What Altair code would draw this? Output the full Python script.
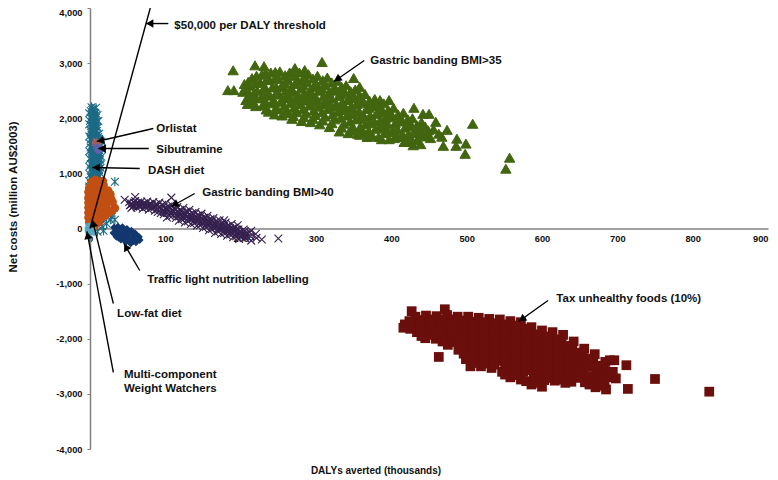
import math
import altair as alt
import pandas as pd

green = [(183,2510),(191,2510),(190,2870),(219,2960),(231,2945),(308,3020),(272,2910),(285,2875),(350,2730),(508,1900),(557,1285),(552,1085),(498,1355),(499,1540),(487,1630),(486,1500),(469,1500),(467,1665),(474,1790),(459,1935),(450,2080),(442,2080),(430,2190),(397,2330),(385,2330),(358,2570),
(205,2620),(203,2480),(207,2330),(215,2730),(213,2590),(217,2440),(214,2290),(228,2790),(226,2650),(230,2510),(227,2370),(229,2230),(240,2830),(238,2700),(242,2560),(239,2410),(241,2270),(237,2120),
(252,2850),(250,2720),(254,2570),(251,2440),(253,2300),(249,2160),(255,2050),(265,2830),(263,2690),(267,2550),(264,2410),(266,2270),(262,2130),(268,1990),
(278,2830),(276,2680),(280,2540),(277,2400),(279,2260),(275,2110),(281,1950),(290,2800),(288,2660),(292,2510),(289,2370),(291,2230),(287,2090),(293,1930),
(302,2770),(300,2640),(304,2500),(301,2350),(303,2210),(299,2060),(305,1890),(315,2740),(313,2600),(317,2460),(314,2310),(316,2170),(312,2030),(318,1840),
(328,2680),(326,2530),(330,2400),(327,2260),(329,2120),(325,1980),(331,1760),(340,2600),(338,2470),(342,2330),(339,2190),(341,2050),(337,1900),(343,1730),
(352,2520),(350,2390),(354,2260),(351,2120),(353,1980),(349,1840),(355,1720),(365,2440),(363,2300),(367,2170),(364,2030),(366,1890),(362,1750),(368,1660),
(378,2350),(376,2220),(380,2080),(377,1950),(379,1810),(375,1680),(390,2270),(388,2130),(392,2000),(389,1860),(391,1730),(387,1620),
(403,2190),(401,2050),(405,1910),(402,1780),(404,1640),(416,2100),(414,1970),(418,1830),(415,1700),(417,1570),(428,2000),(426,1880),(430,1750),(427,1610),(429,1510),(440,1930),(438,1800),(442,1670),(439,1530)]
green_more = [(210,2660),(208,2530),(211,2400),(209,2260),(221,2770),(220,2640),(222,2500),(221,2360),(220,2220),(233,2820),(234,2690),(232,2570),(235,2440),(233,2300),(234,2160),
(246,2840),(245,2710),(247,2570),(246,2430),(245,2300),(246,2170),(245,2070),(259,2780),(258,2640),(260,2500),(259,2360),(258,2220),(259,2090),(271,2770),(272,2620),(270,2470),(272,2330),(271,2190),(270,2040),
(284,2740),(283,2600),(285,2460),(284,2320),(283,2170),(284,2020),(296,2720),(297,2570),(295,2430),(296,2290),(297,2140),(296,1990),(309,2690),(308,2540),(310,2400),(309,2250),(308,2110),(309,1960),
(321,2650),(322,2500),(320,2360),(321,2210),(322,2070),(321,1910),(334,2570),(333,2430),(335,2290),(334,2150),(333,2010),(334,1830),(346,2490),(345,2360),(347,2220),(346,2080),(345,1940),(346,1780),
(358,2420),(359,2270),(357,2130),(358,1990),(359,1850),(358,1700),(371,2320),(370,2190),(372,2050),(371,1910),(370,1770),(384,2240),(383,2100),(385,1960),(384,1820),(383,1660),(396,2150),(397,2020),(395,1890),(396,1750),(397,1620),
(409,2070),(410,1940),(408,1800),(409,1660),(422,1980),(421,1860),(423,1720),(422,1580),(434,1870),(435,1730),(434,1600),(445,1850),(447,1700),(449,1780),(456,1800),(452,1640),(463,1720)]

maroon = [(427,-1500),(471,-1465),(463,-2330),(750,-2730),(714,-2910),(712,-2480),(690,-2390),(822,-2960),
(418,-1740),(416,-1800),(432,-1600),(430,-1740),(434,-1880),(446,-1580),(444,-1720),(448,-1870),(445,-1990),(460,-1590),(458,-1730),(462,-1870),(459,-2000),
(474,-1570),(472,-1710),(476,-1850),(473,-1990),(475,-2110),(488,-1600),(486,-1740),(490,-1880),(487,-2020),(489,-2200),
(502,-1600),(500,-1750),(504,-1900),(501,-2050),(503,-2200),(499,-2370),(505,-2500),(516,-1620),(514,-1770),(518,-1920),(515,-2070),(517,-2220),(513,-2370),(519,-2500),
(530,-1640),(528,-1790),(532,-1940),(529,-2090),(531,-2240),(527,-2390),(533,-2530),(544,-1650),(542,-1800),(546,-1950),(543,-2100),(545,-2250),(541,-2400),(547,-2600),
(558,-1680),(556,-1830),(560,-1980),(557,-2130),(559,-2280),(555,-2430),(561,-2580),(558,-2700),(572,-1700),(570,-1850),(574,-2000),(571,-2150),(573,-2300),(569,-2450),(575,-2600),(572,-2740),
(586,-1790),(584,-1940),(588,-2090),(585,-2240),(587,-2390),(583,-2540),(589,-2690),(586,-2830),(600,-1850),(598,-2000),(602,-2150),(599,-2300),(601,-2450),(597,-2600),(603,-2750),(600,-2870),
(614,-1880),(612,-2030),(616,-2180),(613,-2330),(615,-2480),(611,-2630),(617,-2760),(628,-1930),(626,-2080),(630,-2230),(627,-2380),(629,-2530),(625,-2680),(631,-2800),
(642,-2050),(640,-2200),(644,-2350),(641,-2500),(643,-2650),(639,-2780),(656,-2180),(654,-2330),(658,-2480),(655,-2630),(657,-2790),
(670,-2280),(668,-2430),(672,-2580),(669,-2740),(671,-2880),(684,-2420),(682,-2560),(686,-2700),(683,-2850),(685,-2920),(696,-2390),(694,-2600),(698,-2720)]
maroon_more = [(424,-1680),(425,-1820),(438,-1660),(439,-1810),(440,-1950),(452,-1650),(453,-1790),(453,-1930),(467,-1650),(467,-1790),(467,-1930),(468,-2050),(481,-1650),(481,-1790),(481,-1930),(482,-2060),(495,-1670),(495,-1810),(495,-1960),(495,-2110),(496,-2270),
(509,-1690),(509,-1840),(509,-1990),(509,-2130),(509,-2290),(509,-2440),(523,-1700),(523,-1850),(523,-2000),(523,-2150),(523,-2300),(523,-2450),(537,-1720),(537,-1870),(537,-2020),(537,-2170),(537,-2320),(537,-2470),(551,-1740),(551,-1890),(551,-2040),(551,-2190),(551,-2340),(551,-2500),(551,-2650),
(565,-1760),(565,-1910),(565,-2060),(565,-2210),(565,-2360),(565,-2510),(565,-2660),(579,-1820),(579,-1970),(579,-2120),(579,-2270),(579,-2420),(579,-2570),(579,-2770),(593,-1920),(593,-2070),(593,-2220),(593,-2370),(593,-2520),(593,-2670),(593,-2800),
(607,-1960),(607,-2110),(607,-2260),(607,-2410),(607,-2560),(607,-2710),(621,-2010),(621,-2160),(621,-2310),(621,-2460),(621,-2610),(621,-2740),(635,-2130),(635,-2280),(635,-2430),(635,-2580),(635,-2730),(649,-2250),(649,-2400),(649,-2550),(649,-2710),(663,-2360),(663,-2510),(663,-2680),(663,-2830),(677,-2490),(677,-2630),(677,-2800)]

purple = [(250,-180),(228,-200),(205,-60),(108,560),(60,570),(46,520),(178,150),(214,-40),
(52,480),(53,420),(55,370),(60,500),(61,440),(62,380),(68,490),(69,430),(70,360),(76,490),(77,420),(78,340),(84,480),(85,410),(86,320),(92,470),(93,390),(94,280),(100,460),(101,380),(102,280),(102,200),
(108,430),(109,340),(110,240),(116,390),(117,310),(118,220),(118,140),(124,370),(125,290),(126,190),(126,110),(132,340),(133,260),(134,170),(134,80),(140,300),(141,220),(142,130),(142,50),
(148,270),(149,190),(150,100),(150,10),(156,230),(157,150),(158,60),(158,-30),(164,190),(165,110),(166,20),(166,-80),(172,150),(173,70),(174,-20),(174,-100),(180,110),(181,30),(182,-60),(182,-130),
(188,80),(189,0),(190,-90),(190,-160),(196,60),(197,-20),(198,-110),(198,-190),(204,-20),(205,-100),(206,-170),(212,-70),(213,-140),(214,-220),(220,-100),(221,-170)]
purple_more = [(56,450),(57,400),(64,470),(65,410),(72,460),(73,400),(80,450),(81,380),(88,440),(89,360),(90,300),(96,430),(97,340),(98,260),(104,400),(105,320),(106,230),(112,360),(113,280),(114,190),(120,340),(121,260),(122,170),(128,310),(129,220),(130,130),
(136,280),(137,190),(138,100),(144,240),(145,150),(146,60),(152,200),(153,120),(154,30),(160,170),(161,80),(162,-10),(168,130),(169,40),(170,-50),(176,90),(177,0),(178,-80),(184,50),(185,-30),(186,-110),(192,20),(193,-60),(194,-140),(200,-60),(201,-140),(208,-90),(209,-160)]
purple_core = [(54,430),(58,470),(58,410),(62,430),(66,440),(66,400),(70,430),(74,440),(74,390),(78,400),(82,430),(82,370),(86,390),(90,420),(90,350),(94,350),(98,400),(98,300),(102,340),(106,370),(106,280),(110,310),(114,340),(114,240),(118,270),(122,310),(122,220),(126,250),(130,290),(130,180),(134,220),(138,250),(138,140),(142,180),(146,210),(146,110),(150,150),(154,170),(154,80),(158,110),(162,130),(162,40),(166,70),(170,90),(170,0),(174,30),(178,50),(178,-40),(182,-10),(186,10),(186,-70),(190,-40),(194,-20),(194,-100),(198,-70),(202,-90),(206,-120)]

teal = [(33,850),(33,160),(27,160),(29,215),(22,90),(16,40),(18,-40),(10,-60),
(2,2200),(8,2190),(5,2110),(-1,2090),(10,2060),(1,2000),(6,1970),(11,1950),(-1,1890),(5,1860),(10,1830),(1,1780),(7,1750),(12,1720),(-1,1670),(4,1640),(10,1610),(15,1580),(0,1540),(6,1510),(12,1480),(16,1440),(-1,1400),(5,1370),(11,1340),(15,1300),(0,1260),(6,1230),(12,1200),(14,1150),(-1,1120),(5,1090),(10,1060),(13,1010),(0,980),(6,950),(11,920),(-1,860),(-1,760),(-2,600),(24,260),(18,180),(8,90),
(3,2150),(7,2040),(3,1920),(8,1890),(4,1810),(9,1690),(3,1590),(8,1560),(13,1530),(3,1450),(9,1420),(3,1320),(9,1280),(13,1250),(3,1180),(9,1140),(3,1040),(8,1000),(3,900),(8,880),(2,1700),(11,1380),(14,1100)]
teal_core = [(4,2170),(1,2130),(7,2100),(3,2060),(8,2010),(4,1990),(0,1950),(8,1930),(3,1870),(9,1850),(6,1800),(1,1740),(4,1730),(9,1770),(6,1680),(11,1660),(1,1620),(7,1620),(12,1630),(3,1520),(10,1530),(14,1500),(1,1470),(7,1460),(12,1420),(2,1360),(8,1340),(13,1360),(2,1290),(6,1290),(11,1260),(4,1210),(9,1210),(13,1170),(1,1170),(6,1150),(11,1130),(2,1080),(7,1050),(12,1060),(4,990),(10,980),(1,930),(6,910),(12,960),(4,860)]

orange = [(7,885),(17,860),(2,840),(10,800),(18,790),(-1,740),(7,730),(15,720),(24,690),(-2,660),(5,640),(13,630),(22,640),(27,620),(-2,560),(6,550),(14,550),(23,560),(28,540),(-2,470),(6,460),(14,460),(22,460),(30,480),(-2,380),(6,370),(14,370),(22,370),(33,370),(29,320),(-2,290),(6,280),(14,280),(23,270),(-2,200),(5,190),(13,190),(19,220),(-1,110),(6,110),(12,120),(1,50),(6,50)]

navy = [(32,20),(37,35),(43,25),(49,-5),(55,-40),(60,-90),(65,-150),(66,-210),(61,-250),(54,-270),(48,-240),(41,-200),(35,-150),(31,-80),(38,-60),(45,-60),(52,-90),(58,-140),(42,-130),(50,-170),(56,-200),(47,-120),(36,-100),(60,-190),(35,-30),(41,-20),(47,-40),(53,-70),(62,-120),(38,-170),(45,-210),(52,-240),(58,-230),(63,-180)]

light = [(-2,40),(1,50),(4,30),(-3,-20),(0,-10),(3,-20),(-2,-60),(1,-70),(4,-60)]
orlistat = [(7,1590),(10,1560),(6,1540),(12,1550)]
sibutramine = [(8,1490),(13,1470),(9,1440),(15,1430),(11,1400)]

threshold_x = [0, 80]
threshold_y = [0, 4000]

arrow_names = ["threshold", "banding35", "orlistat", "sibutramine", "dash", "banding40", "traffic", "lowfat", "multi", "tax"]
arrow_x1 = [104, 364, 84, 78, 66, 139, 66, 31, 31, 608]
arrow_y1 = [3718, 3047, 1814, 1451, 1088, 635, -762, -1360, -2612, -1306]
arrow_x2 = [74, 324, 9, 11, 3, 108, 45, 3, -4, 569]
arrow_y2 = [3718, 2666, 1578, 1451, 1106, 399, -272, 163, -54, -1687]

note_text = ["$50,000 per DALY threshold", "Gastric banding BMI>35", "Orlistat", "Sibutramine", "DASH diet",
             "Gastric banding BMI>40", "Traffic light nutrition labelling", "Low-fat diet",
             "Multi-component", "Weight Watchers", "Tax unhealthy foods (10%)"]
note_x = [112, 372, 88, 88, 77, 149, 76, 36, 45, 45, 619]
note_y = [3682, 3047, 1814, 1433, 1052, 635, -943, -1542, -2666, -2920, -1270]

x_ticks = [0, 100, 200, 300, 400, 500, 600, 700, 800, 900]
y_ticks = [-4000, -3000, -2000, -1000, 0, 1000, 2000, 3000, 4000]

W, H = 678, 441
FONT = "Liberation Sans"
xs = alt.Scale(domain=[0, 900], nice=False, zero=False)
ys = alt.Scale(domain=[-4000, 4000], nice=False, zero=False)
x_axis = alt.Axis(values=x_ticks, grid=False, title=None, offset=-H / 2, format="d",
                  domainColor="#808080", domainWidth=1.5, tickSize=0, ticks=False, labelPadding=6,
                  labelFont=FONT, labelFontSize=9.3, labelFontWeight="bold", labelColor="#111",
                  labelAlign=alt.expr("datum.value == 900 ? 'right' : 'center'"))
y_axis = alt.Axis(values=y_ticks, grid=False, title=None,
                  labelExpr="(datum.value < 0 ? '-' : '') + format(abs(datum.value), ',d')",
                  domainColor="#808080", domainWidth=1.5, tickColor="#808080", tickSize=3, labelPadding=5,
                  labelFont=FONT, labelFontSize=9.3, labelFontWeight="bold", labelColor="#111",
                  labelBaseline=alt.expr("datum.value == 4000 ? 'top' : 'middle'"))
XE = alt.X("x:Q", scale=xs, axis=x_axis)
YE = alt.Y("y:Q", scale=ys, axis=y_axis)

def df(pts):
    return pd.DataFrame(pts, columns=["x", "y"])

X_PATH = "M-1,-1L1,1M-1,1L1,-1"
STAR_PATH = "M-1,-1L1,1M-1,1L1,-1M0,-1.2L0,1.2"

teal_l = alt.Chart(df(teal + teal_core)).mark_point(shape=STAR_PATH, filled=False, color="#1b6a85", size=60, strokeWidth=1.1, opacity=1).encode(x=XE, y=YE)
purple_l = alt.Chart(df(purple + purple_more + purple_core)).mark_point(shape=X_PATH, filled=False, color="#35204f", size=60, strokeWidth=1.1, opacity=1).encode(x=XE, y=YE)
green_l = alt.Chart(df(green + green_more)).mark_point(shape="triangle-up", filled=True, color="#41660f", stroke="#41660f", strokeWidth=1, size=108, opacity=1).encode(x=XE, y=YE)
maroon_l = alt.Chart(df(maroon + maroon_more)).mark_point(shape="square", filled=True, color="#6a0f0c", size=95, opacity=1).encode(x=XE, y=YE)
orange_l = alt.Chart(df(orange)).mark_point(shape="circle", filled=True, color="#c24f12", size=75, opacity=1).encode(x=XE, y=YE)
navy_l = alt.Chart(df(navy)).mark_point(shape="diamond", filled=True, color="#12386f", size=60, opacity=1).encode(x=XE, y=YE)
light_l = alt.Chart(df(light)).mark_point(shape="square", filled=True, color="#5aa5c0", size=36, opacity=1).encode(x=XE, y=YE)
orl_l = alt.Chart(df(orlistat)).mark_point(shape="square", filled=True, color="#a85c5c", size=25, opacity=1).encode(x=XE, y=YE)
sib_l = alt.Chart(df(sibutramine)).mark_point(shape="square", filled=True, color="#5b64a8", size=25, opacity=1).encode(x=XE, y=YE)

thr = pd.DataFrame({"x": [threshold_x[0]], "x2": [threshold_x[1]], "y": [threshold_y[0]], "y2": [threshold_y[1]]})
thr_l = alt.Chart(thr).mark_rule(color="black", strokeWidth=1.4).encode(x=XE, x2="x2:Q", y=YE, y2="y2:Q")

px = W / 900
py = H / 8000
HEAD_BACK = 4
rows = []
for x1, y1, x2, y2 in zip(arrow_x1, arrow_y1, arrow_x2, arrow_y2):
    dx, dy = (x2 - x1) * px, (y2 - y1) * py
    n = math.hypot(dx, dy)
    rows.append((x2 - dx / n * HEAD_BACK / px, y2 - dy / n * HEAD_BACK / py, math.degrees(math.atan2(dx, dy)) % 360))
heads = pd.DataFrame(rows, columns=["x", "y", "ang"])
arrows = pd.DataFrame({"name": arrow_names, "x": arrow_x1, "y": arrow_y1, "x2": arrow_x2, "y2": arrow_y2})
arr_l = alt.Chart(arrows).mark_rule(color="black", strokeWidth=1.4).encode(x=XE, x2="x2:Q", y=YE, y2="y2:Q")
head_l = alt.Chart(heads).mark_point(shape="triangle-up", filled=True, color="black", size=70, opacity=1).encode(
    x=XE, y=YE, angle=alt.Angle("ang:Q", scale=None))

notes = pd.DataFrame({"t": note_text, "x": note_x, "y": note_y})
note_l = alt.Chart(notes).mark_text(align="left", baseline="middle", font=FONT, fontWeight="bold", fontSize=11.5, color="#111").encode(x=XE, y=YE, text="t:N")

yt = alt.Chart(pd.DataFrame({"t": ["Net costs (million AU$2003)"]})).mark_text(angle=270, font=FONT, fontWeight="bold", fontSize=11.5, color="#111").encode(
    x=alt.value(-76), y=alt.value(189), text="t:N")
xt = alt.Chart(pd.DataFrame({"t": ["DALYs averted (thousands)"]})).mark_text(font=FONT, fontWeight="bold", fontSize=10, color="#111").encode(
    x=alt.value(286), y=alt.value(463), text="t:N")

chart = alt.layer(teal_l, purple_l, green_l, maroon_l, orange_l, navy_l, light_l, orl_l, sib_l, thr_l, arr_l, head_l, note_l, yt, xt).properties(
    width=W, height=H, background="white",
    autosize=alt.AutoSizeParams(type="none"),
    padding={"left": 82, "top": 0, "right": 2, "bottom": 32},
).configure_view(stroke=None)

chart.save("out.html", embed_options={"renderer": "svg", "actions": False})
